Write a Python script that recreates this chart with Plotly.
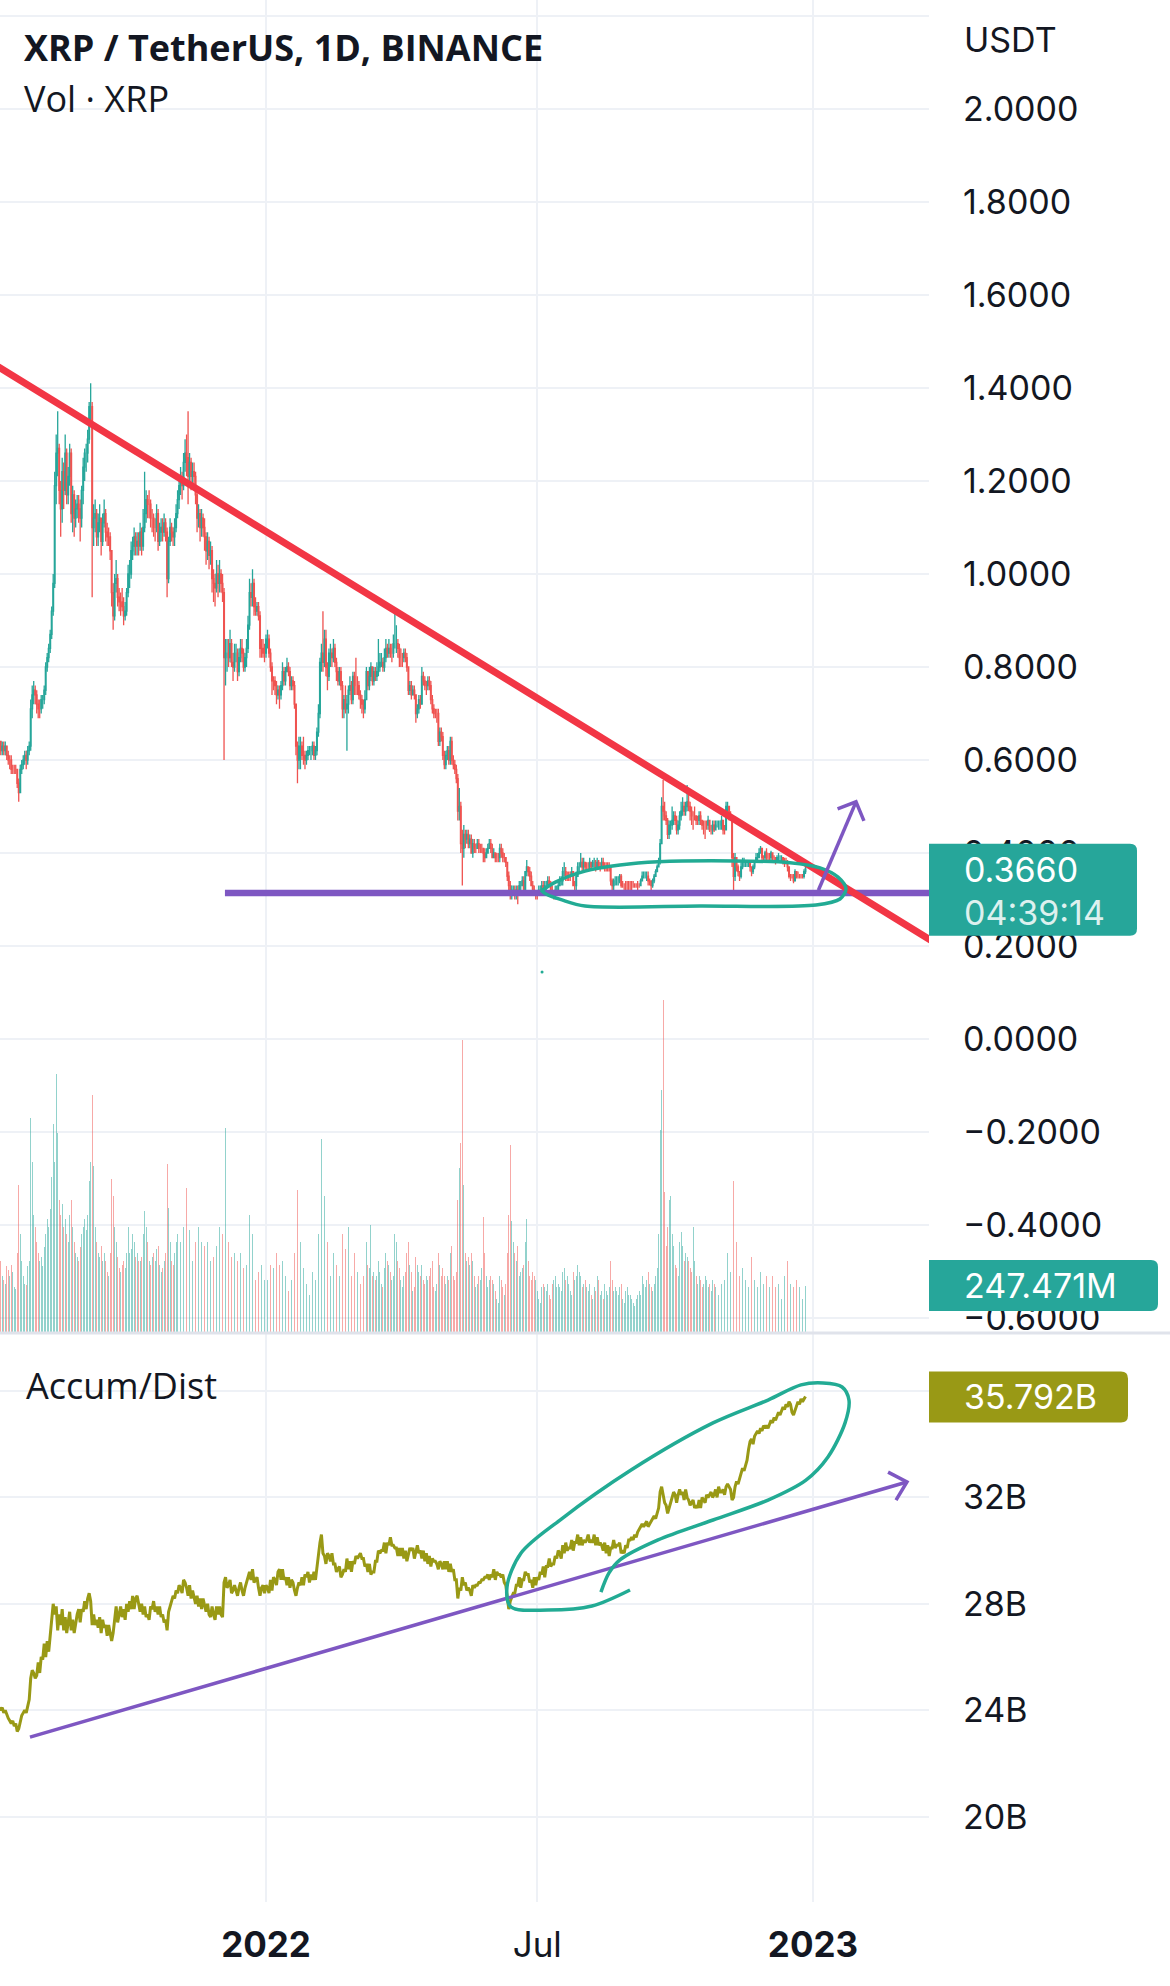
import pandas as pd
import plotly.graph_objects as go

# ---------------- DATA ----------------
start_date = "2021-07-07"   # first daily candle
first_open = 0.63

close = [
    # 2021-07 (7..31)
    0.64,0.62,0.63,0.62,0.63, 0.61,0.60,0.60,0.58,0.58, 0.58,0.58,0.55,0.53,0.58, 0.59,0.60,0.61,0.60,0.62, 0.63,0.71,0.74,0.75,0.74,
    # 2021-08
    0.72,0.71,0.71,0.73,0.73, 0.75,0.80,0.82,0.84,0.87, 0.92,0.98,1.19,1.26,1.27, 1.18,1.14,1.22,1.18,1.26, 1.17,1.21,1.26,1.13,1.17, 1.12,1.14,1.15,1.14,1.12, 1.18,
    # 2021-09
    1.23,1.26,1.26,1.29,1.36, 1.36,1.10,1.12,1.13,1.08, 1.11,1.12,1.07,1.11,1.13, 1.09,1.08,1.08,1.05,0.96, 0.91,0.98,0.99,0.95,0.94, 0.94,0.93,0.91,0.92,0.96,
    # 2021-10
    1.00,1.00,1.05,1.06,1.08, 1.06,1.07,1.06,1.09,1.06, 1.10,1.13,1.16,1.15,1.15, 1.12,1.12,1.10,1.10,1.13, 1.07,1.09,1.10,1.09,1.11, 1.09,0.99,1.07,1.10,1.09, 1.08,
    # 2021-11
    1.10,1.13,1.16,1.19,1.20, 1.19,1.24,1.26,1.25,1.21, 1.24,1.21,1.22,1.21,1.17, 1.12,1.13,1.10,1.12,1.10, 1.08,1.05,1.07,1.04,1.05, 0.99,0.98,0.97,1.00,0.98,
    # 2021-12
    1.00,0.98,0.96,0.82,0.83, 0.83,0.82,0.85,0.81,0.80, 0.83,0.83,0.79,0.82,0.84, 0.83,0.80,0.82,0.84,0.89, 0.96,0.95,0.98,0.93,0.92, 0.93,0.91,0.84,0.84,0.83, 0.83,
    # 2022-01
    0.86,0.86,0.83,0.80,0.77, 0.77,0.76,0.74,0.75,0.74, 0.76,0.79,0.77,0.79,0.80, 0.79,0.76,0.77,0.76,0.72, 0.63,0.60,0.63,0.63,0.61, 0.61,0.60,0.61,0.62,0.62, 0.62,
    # 2022-02
    0.63,0.61,0.62,0.66,0.70, 0.81,0.83,0.81,0.86,0.80, 0.78,0.83,0.83,0.82,0.84, 0.81,0.79,0.77,0.79,0.76, 0.71,0.73,0.71,0.72,0.75, 0.76,0.73,0.78,
    # 2022-03
    0.76,0.76,0.76,0.74,0.73, 0.72,0.71,0.73,0.79,0.76, 0.78,0.80,0.77,0.79,0.78, 0.79,0.80,0.81,0.81,0.80, 0.82,0.84,0.83,0.84,0.83, 0.83,0.85,0.85,0.85,0.84, 0.82,
    # 2022-04
    0.82,0.82,0.83,0.82,0.80, 0.75,0.76,0.74,0.75,0.74, 0.70,0.71,0.73,0.72,0.78, 0.77,0.76,0.76,0.77,0.76, 0.73,0.71,0.70,0.70,0.70, 0.64,0.66,0.65,0.61,0.59,
    # 2022-05
    0.61,0.62,0.60,0.64,0.60, 0.59,0.58,0.56,0.49,0.50, 0.42,0.41,0.44,0.43,0.44, 0.42,0.43,0.40,0.42,0.41, 0.41,0.42,0.41,0.41,0.41, 0.40,0.39,0.40,0.41,0.42, 0.41,
    # 2022-06
    0.39,0.40,0.39,0.39,0.39, 0.41,0.40,0.39,0.39,0.38, 0.35,0.33,0.31,0.32,0.32, 0.31,0.32,0.31,0.33,0.33, 0.34,0.32,0.36,0.37,0.36, 0.35,0.33,0.32,0.31,0.31,
    # 2022-07
    0.31,0.32,0.32,0.33,0.32, 0.33,0.33,0.34,0.33,0.32, 0.31,0.31,0.32,0.32,0.33, 0.34,0.34,0.36,0.36,0.35, 0.35,0.35,0.35,0.36,0.33, 0.33,0.35,0.37,0.37,0.38, 0.37,
    # 2022-08
    0.38,0.37,0.37,0.37,0.38, 0.37,0.38,0.38,0.37,0.38, 0.37,0.37,0.38,0.37,0.37, 0.37,0.37,0.37,0.34,0.33, 0.34,0.34,0.34,0.34,0.35, 0.33,0.33,0.33,0.33,0.33, 0.33,
    # 2022-09
    0.33,0.33,0.33,0.33,0.33, 0.33,0.33,0.34,0.35,0.35, 0.35,0.35,0.34,0.34,0.33, 0.34,0.35,0.36,0.37,0.38, 0.42,0.50,0.49,0.48,0.47, 0.44,0.46,0.46,0.47,0.48,
    # 2022-10
    0.47,0.45,0.46,0.48,0.49, 0.50,0.49,0.50,0.51,0.50, 0.49,0.48,0.48,0.48,0.47, 0.47,0.48,0.47,0.46,0.46, 0.46,0.46,0.47,0.45,0.45, 0.46,0.45,0.46,0.46,0.46, 0.46,
    # 2022-11
    0.47,0.45,0.45,0.50,0.50, 0.48,0.48,0.39,0.35,0.39, 0.37,0.36,0.35,0.37,0.38, 0.38,0.38,0.38,0.38,0.37, 0.36,0.37,0.38,0.39,0.39, 0.40,0.41,0.39,0.39,0.40,
    # 2022-12 (1..27)
    0.39,0.39,0.39,0.40,0.39, 0.39,0.38,0.39,0.39,0.39, 0.39,0.38,0.38,0.38,0.37, 0.35,0.35,0.35,0.34,0.36, 0.35,0.35,0.35,0.35,0.35, 0.36,0.366,
]

high = [
    0.65,0.64,0.64,0.64,0.64, 0.63,0.62,0.61,0.61,0.59, 0.59,0.59,0.58,0.56,0.59, 0.60,0.61,0.62,0.62,0.63, 0.64,0.73,0.76,0.77,0.76,
    0.75,0.73,0.73,0.74,0.74, 0.76,0.81,0.83,0.85,0.88, 0.93,1.00,1.22,1.30,1.35, 1.28,1.20,1.25,1.24,1.30, 1.27,1.23,1.28,1.27,1.19, 1.18,1.16,1.17,1.17,1.16, 1.19,
    1.25,1.27,1.28,1.31,1.37, 1.41,1.37,1.15,1.16,1.14, 1.13,1.15,1.12,1.13,1.16, 1.14,1.11,1.10,1.09,1.05, 0.98,1.00,1.03,1.00,0.97, 0.96,0.97,0.95,0.94,0.97,
    1.02,1.03,1.07,1.08,1.10, 1.09,1.09,1.09,1.11,1.10, 1.14,1.22,1.18,1.17,1.18, 1.16,1.14,1.13,1.12,1.15, 1.14,1.11,1.12,1.12,1.13, 1.12,1.10,1.08,1.12,1.11, 1.10,
    1.12,1.15,1.18,1.21,1.23, 1.22,1.26,1.29,1.30,1.35, 1.26,1.25,1.24,1.24,1.22, 1.18,1.15,1.14,1.14,1.13, 1.12,1.09,1.09,1.08,1.07, 1.06,1.01,1.00,1.03,1.02,
    1.03,1.01,1.00,0.97,0.86, 0.86,0.86,0.88,0.86,0.83, 0.85,0.85,0.84,0.84,0.86, 0.86,0.84,0.83,0.86,0.91, 0.99,0.98,1.01,0.99,0.95, 0.94,0.94,0.92,0.86,0.86, 0.85,
    0.87,0.88,0.87,0.84,0.81, 0.78,0.78,0.77,0.76,0.76, 0.77,0.81,0.80,0.80,0.82, 0.81,0.80,0.78,0.78,0.77, 0.72,0.64,0.65,0.65,0.64, 0.65,0.62,0.62,0.63,0.63, 0.63,
    0.64,0.64,0.63,0.67,0.72, 0.82,0.85,0.92,0.88,0.88, 0.81,0.84,0.85,0.84,0.86, 0.85,0.82,0.80,0.80,0.80, 0.77,0.74,0.76,0.74,0.76, 0.78,0.77,0.79,
    0.79,0.82,0.78,0.77,0.75, 0.74,0.73,0.75,0.80,0.79, 0.80,0.81,0.80,0.80,0.80, 0.81,0.86,0.83,0.83,0.82, 0.84,0.86,0.85,0.86,0.85, 0.85,0.87,0.92,0.89,0.86, 0.85,
    0.84,0.83,0.84,0.84,0.83, 0.80,0.77,0.77,0.76,0.76, 0.74,0.72,0.74,0.74,0.80, 0.79,0.78,0.77,0.78,0.78, 0.77,0.74,0.72,0.71,0.71, 0.71,0.67,0.67,0.66,0.62,
    0.62,0.63,0.63,0.65,0.65, 0.61,0.60,0.59,0.57,0.54, 0.51,0.45,0.46,0.45,0.45, 0.45,0.44,0.44,0.43,0.43, 0.42,0.43,0.43,0.42,0.42, 0.41,0.41,0.41,0.42,0.43, 0.43,
    0.42,0.41,0.40,0.40,0.40, 0.42,0.42,0.41,0.40,0.39, 0.38,0.36,0.34,0.33,0.33, 0.33,0.33,0.33,0.34,0.34, 0.35,0.35,0.36,0.385,0.37, 0.37,0.36,0.34,0.33,0.32,
    0.32,0.33,0.33,0.34,0.34, 0.34,0.34,0.35,0.35,0.34, 0.33,0.32,0.33,0.33,0.34, 0.35,0.35,0.37,0.38,0.37, 0.36,0.36,0.36,0.37,0.36, 0.34,0.36,0.38,0.38,0.40, 0.39,
    0.39,0.38,0.38,0.38,0.39, 0.38,0.385,0.39,0.385,0.39, 0.385,0.38,0.39,0.39,0.38, 0.38,0.38,0.38,0.37,0.345, 0.345,0.35,0.35,0.35,0.355, 0.355,0.34,0.335,0.34,0.34, 0.34,
    0.34,0.34,0.34,0.335,0.335, 0.34,0.335,0.345,0.36,0.36, 0.36,0.36,0.36,0.345,0.34, 0.345,0.355,0.365,0.375,0.39, 0.43,0.52,0.557,0.51,0.49, 0.475,0.47,0.47,0.50,0.49,
    0.49,0.48,0.47,0.49,0.51, 0.52,0.51,0.51,0.546,0.53, 0.51,0.50,0.49,0.50,0.48, 0.48,0.49,0.49,0.47,0.47, 0.47,0.47,0.48,0.47,0.46, 0.47,0.47,0.47,0.47,0.47, 0.47,
    0.48,0.47,0.46,0.51,0.51, 0.50,0.49,0.48,0.40,0.40, 0.39,0.375,0.36,0.38,0.39, 0.39,0.385,0.385,0.385,0.38, 0.37,0.375,0.385,0.40,0.40, 0.41,0.415,0.41,0.395,0.405,
    0.41,0.40,0.40,0.405,0.40, 0.395,0.39,0.395,0.40,0.395, 0.395,0.39,0.39,0.39,0.385, 0.37,0.355,0.355,0.355,0.365, 0.36,0.36,0.355,0.355,0.355, 0.365,0.37,
]

low = [
    0.61,0.61,0.61,0.61,0.61, 0.60,0.59,0.58,0.57,0.57, 0.57,0.57,0.54,0.51,0.53, 0.57,0.58,0.59,0.58,0.59, 0.61,0.62,0.69,0.72,0.72,
    0.70,0.69,0.69,0.70,0.71, 0.72,0.74,0.79,0.81,0.83, 0.86,0.91,0.97,1.15,1.21, 1.15,1.08,1.11,1.14,1.17, 1.15,1.15,1.19,1.11,1.09, 1.08,1.10,1.12,1.11,1.07, 1.10,
    1.15,1.20,1.22,1.24,1.28, 1.32,0.95,1.06,1.09,1.06, 1.06,1.09,1.04,1.06,1.10, 1.07,1.06,1.06,1.03,0.93, 0.88,0.90,0.96,0.93,0.92, 0.91,0.92,0.89,0.90,0.91,
    0.95,0.97,0.99,1.03,1.04, 1.04,1.04,1.04,1.05,1.04, 1.05,1.09,1.11,1.12,1.12, 1.10,1.09,1.08,1.07,1.09, 1.05,1.06,1.07,1.07,1.08, 1.07,0.95,0.98,1.06,1.07, 1.06,
    1.06,1.09,1.12,1.14,1.17, 1.16,1.18,1.22,1.21,1.15, 1.19,1.18,1.19,1.19,1.15, 1.09,1.10,1.07,1.08,1.08, 1.05,1.02,1.03,1.01,1.02, 0.96,0.94,0.93,0.96,0.95,
    0.96,0.96,0.94,0.60,0.76, 0.79,0.80,0.81,0.80,0.77, 0.79,0.81,0.77,0.78,0.81, 0.81,0.79,0.79,0.80,0.83, 0.88,0.93,0.93,0.91,0.91, 0.91,0.90,0.82,0.82,0.82, 0.81,
    0.82,0.84,0.82,0.79,0.74, 0.75,0.74,0.72,0.73,0.71, 0.73,0.75,0.76,0.76,0.79, 0.78,0.75,0.75,0.75,0.71, 0.61,0.55,0.58,0.58,0.60, 0.59,0.58,0.59,0.60,0.61, 0.60,
    0.61,0.60,0.60,0.61,0.65, 0.69,0.79,0.79,0.80,0.78, 0.75,0.77,0.80,0.80,0.81, 0.80,0.77,0.76,0.76,0.75, 0.69,0.69,0.70,0.62,0.70, 0.74,0.72,0.72,
    0.74,0.74,0.74,0.73,0.71, 0.70,0.69,0.70,0.73,0.75, 0.75,0.77,0.76,0.76,0.77, 0.77,0.78,0.79,0.80,0.79, 0.79,0.81,0.82,0.82,0.82, 0.81,0.82,0.84,0.83,0.82, 0.80,
    0.80,0.80,0.81,0.81,0.79, 0.74,0.74,0.73,0.74,0.73, 0.68,0.69,0.70,0.71,0.72, 0.76,0.75,0.74,0.75,0.75, 0.72,0.70,0.69,0.69,0.68, 0.63,0.63,0.64,0.60,0.58,
    0.58,0.60,0.59,0.59,0.59, 0.58,0.57,0.55,0.47,0.47, 0.40,0.33,0.39,0.41,0.42, 0.41,0.41,0.40,0.39,0.40, 0.40,0.41,0.40,0.40,0.40, 0.38,0.38,0.39,0.40,0.41, 0.40,
    0.39,0.39,0.38,0.38,0.38, 0.38,0.39,0.38,0.38,0.37, 0.34,0.32,0.30,0.30,0.31, 0.30,0.30,0.29,0.31,0.32, 0.33,0.32,0.32,0.35,0.35, 0.34,0.33,0.31,0.31,0.30,
    0.30,0.31,0.31,0.31,0.31, 0.32,0.32,0.33,0.33,0.32, 0.31,0.30,0.30,0.31,0.32, 0.33,0.33,0.33,0.35,0.34, 0.34,0.34,0.34,0.35,0.33, 0.32,0.32,0.35,0.36,0.37, 0.36,
    0.36,0.36,0.36,0.36,0.365, 0.365,0.37,0.37,0.36,0.365, 0.365,0.36,0.37,0.365,0.36, 0.36,0.36,0.36,0.33,0.32, 0.32,0.33,0.33,0.33,0.335, 0.325,0.325,0.32,0.32,0.32, 0.32,
    0.32,0.32,0.325,0.325,0.325, 0.32,0.325,0.33,0.34,0.345, 0.345,0.34,0.33,0.33,0.32, 0.325,0.335,0.35,0.36,0.37, 0.375,0.42,0.47,0.47,0.46, 0.43,0.43,0.44,0.45,0.46,
    0.46,0.44,0.44,0.45,0.47, 0.48,0.48,0.48,0.49,0.49, 0.47,0.46,0.45,0.47,0.46, 0.46,0.46,0.46,0.45,0.44, 0.43,0.45,0.45,0.445,0.44, 0.44,0.445,0.45,0.455,0.45, 0.45,
    0.45,0.44,0.44,0.45,0.48, 0.47,0.47,0.37,0.32,0.34, 0.36,0.35,0.34,0.345,0.365, 0.37,0.37,0.37,0.37,0.36, 0.35,0.355,0.365,0.38,0.38, 0.39,0.40,0.385,0.38,0.385,
    0.38,0.38,0.38,0.385,0.385, 0.38,0.375,0.38,0.38,0.38, 0.38,0.375,0.37,0.375,0.36, 0.345,0.34,0.345,0.335,0.34, 0.345,0.345,0.345,0.345,0.345, 0.345,0.355,
]

volume_m = [
    420,380,300,280,260, 350,330,300,360,320, 240,230,420,780,520, 380,300,260,250,350, 380,1130,900,620,560,
    480,420,380,400,350, 450,520,600,560,650, 820,1100,900,1360,1050, 700,620,680,560,600, 520,480,620,700,560, 480,420,400,380,450, 520,
    560,600,540,620,800, 900,1250,880,560,480, 420,400,460,380,420, 380,320,300,420,810, 720,560,480,400,340, 320,360,380,340,420,
    560,420,440,520,480, 400,420,380,380,400, 520,640,560,480,380, 360,400,420,380,440, 460,360,320,340,380, 420,890,660,480,380, 360,
    420,480,520,560,480, 420,560,900,760,820, 540,420,380,360,480, 650,560,500,480,420, 460,540,480,620,380, 520,400,420,460,480,
    560,480,520,1310,1080, 620,480,420,400,380, 420,320,380,360,420, 380,340,300,360,480, 620,560,520,420,280, 240,320,480,360,300, 280,
    240,280,320,360,420, 340,380,420,280,360, 320,380,320,300,260, 220,300,280,260,420, 680,750,520,480,360, 340,300,260,220,200, 260,
    320,300,280,380,520, 760,1020,880,720,640, 480,440,300,340,420, 380,360,420,300,320, 520,480,440,970,560, 380,300,460,
    420,380,320,300,260, 220,300,320,480,360, 340,570,300,320,280, 300,380,320,260,240, 340,420,380,360,320, 280,300,520,480,380, 340,
    280,240,300,320,420, 480,360,320,220,240, 400,360,320,300,360, 280,260,300,280,300, 340,380,240,220,260, 420,360,300,340,300,
    260,300,280,420,460, 300,280,320,700,870, 1000,1540,780,420,380, 400,360,420,380,300, 240,260,300,280,340, 610,420,300,240,280, 300,
    280,260,220,180,160, 300,280,240,200,260, 420,620,990,590,480, 420,380,460,300,320, 340,360,480,600,380, 300,280,320,300,280,
    220,180,160,240,260, 240,220,260,200,180, 260,280,300,240,260, 240,220,320,340,280, 300,260,220,200,320, 280,300,360,320,300, 240,
    260,280,240,220,260, 200,180,240,220,300, 280,200,220,180,260, 220,200,240,380,280, 220,240,220,200,240, 260,180,160,220,240, 200,
    200,180,160,140,180, 200,220,200,300,260, 240,280,320,260,240, 220,260,300,340,520, 1070,1280,1750,740,460, 560,700,720,520,460,
    360,340,300,480,530, 460,380,420,400,380, 340,320,560,380,300, 260,300,280,240,260, 300,280,240,260,220, 280,260,240,220,200, 240,
    260,300,280,530,420, 300,320,940,800,560, 480,380,300,360,340, 300,280,260,240,570, 400,300,280,260,240, 300,320,280,260,240,
    300,260,240,280,300, 260,240,220,260,200, 180,240,300,320,380, 420,260,200,240,360, 280,300,240,200,180, 260,247.471,
]

accum_dist_b = [
    # 2021-07
    24.1,24.0,24.1,23.9,24.0, 23.8,23.7,23.6,23.5,23.6, 23.4,23.5,23.2,23.3,23.6, 23.8,23.9,24.0,23.9,24.2, 24.4,25.2,25.5,25.4,25.2,
    # 2021-08
    25.3,25.8,25.4,26.0,25.9, 26.5,26.0,26.6,26.2,27.0, 27.4,28.0,27.6,27.9,27.0, 27.6,27.2,27.8,27.0,27.5, 26.9,27.3,27.7,27.0,27.4, 26.9,27.3,27.6,27.8,27.3, 27.8,
    # 2021-09
    27.7,28.1,27.8,28.2,28.4, 28.1,27.2,27.6,27.2,27.4, 27.1,27.5,26.9,27.4,27.1, 27.2,26.8,27.2,26.9,26.6, 26.9,27.5,27.9,27.3,27.7, 27.9,27.5,27.8,27.4,28.0,
    # 2021-10
    27.7,28.1,27.8,28.3,27.8, 28.2,28.3,27.9,27.7,28.0, 27.6,27.9,27.5,27.6,27.4, 27.9,27.8,28.1,27.7,27.9, 27.6,27.9,27.5,27.6,27.3, 27.4,27.0,27.7,27.9,28.1, 28.3,
    # 2021-11
    28.2,28.5,28.4,28.7,28.6, 28.4,28.9,28.8,28.6,28.3, 28.7,28.2,28.5,28.2,28.0, 28.3,27.9,28.2,27.8,28.2, 27.9,27.7,28.0,27.6,27.5, 27.9,27.6,27.4,27.9,27.6,
    # 2021-12
    27.9,27.6,27.5,28.8,29.0, 28.6,28.7,28.9,28.4,28.5, 28.7,28.5,28.3,28.6,28.8, 28.5,28.3,28.6,28.8,29.0, 29.2,28.9,29.3,28.8,28.9, 29.0,28.6,28.3,28.6,28.7, 28.4,
    # 2022-01
    28.7,28.6,28.4,28.9,28.5, 29.0,28.9,28.7,29.2,29.3, 28.9,29.3,28.9,29.0,28.7, 29.0,28.6,28.9,28.8,28.5, 28.3,28.6,28.8,28.7,29.0, 28.7,29.1,29.0,29.2,28.8, 29.1,
    # 2022-02
    28.9,29.2,28.9,29.4,29.7, 30.3,30.6,29.9,29.8,29.5, 29.9,29.8,29.6,29.9,29.5, 29.5,29.2,29.3,29.4,29.0, 29.1,29.3,29.2,29.7,29.3, 29.6,29.2,29.6,
    # 2022-03
    29.5,29.8,29.7,29.8,29.9, 29.7,29.7,29.4,29.5,29.2, 29.5,29.1,29.2,29.2,29.6, 29.6,30.0,29.9,30.0,30.0, 30.3,29.9,30.3,30.2,30.5, 30.2,30.2,30.1,30.1,29.8, 30.1,
    # 2022-04
    29.8,30.1,29.7,30.0,29.6, 29.9,30.1,30.0,30.1,29.7, 30.0,30.2,29.9,30.0,29.7, 30.0,29.6,29.9,29.5,29.8, 29.4,29.7,29.6,29.6,29.5, 29.3,29.6,29.5,29.3,29.6,
    # 2022-05
    29.3,29.6,29.2,29.5,29.2, 29.3,28.9,28.9,28.2,28.6, 28.5,29.0,28.7,28.8,28.5, 28.6,28.5,28.3,28.7,28.6, 28.7,28.7,28.8,28.8,28.9, 28.9,29.0,29.0,29.1,28.9, 29.1,
    # 2022-06
    29.0,29.3,28.9,29.2,29.1, 29.1,29.0,29.1,28.8,28.7, 28.1,27.8,28.1,28.3,28.4, 28.4,28.7,28.7,29.0,28.6, 28.9,28.9,29.2,29.1,29.1, 28.8,28.9,28.6,29.0,28.7,
    # 2022-07
    29.0,28.9,29.2,29.1,29.4, 29.0,29.4,29.4,29.7,29.4, 29.5,29.5,29.8,29.7,30.0, 29.9,29.7,30.2,29.9,30.3, 30.0,30.1,30.1,30.4,30.0, 30.3,30.3,30.6,30.2,30.5, 30.2,
    # 2022-08
    30.4,30.3,30.4,30.6,30.3, 30.4,30.3,30.6,30.2,30.5, 30.2,30.3,30.2,30.0,30.3, 29.9,30.2,29.8,30.1,30.1, 30.4,30.1,30.2,30.2,30.3, 29.9,30.0,29.9,30.2,30.1, 30.4,
    # 2022-09
    30.4,30.5,30.4,30.6,30.5, 30.7,30.8,30.9,31.0,30.9, 31.0,31.1,30.9,31.0,31.1, 31.2,31.3,31.2,31.4,31.6, 32.2,32.4,32.1,31.8,31.7, 31.4,31.6,31.8,32.0,32.2,
    # 2022-10
    32.1,31.8,32.1,32.3,32.1, 32.2,31.9,32.3,32.0,31.9, 31.7,31.8,31.9,31.6,31.7, 31.6,31.9,31.6,32.0,31.9, 31.8,32.1,32.0,32.1,32.2, 32.0,32.1,32.3,32.0,32.4, 32.2,
    # 2022-11
    32.2,32.3,32.1,32.4,32.5, 32.4,32.3,31.9,32.0,32.4, 32.6,32.5,32.7,32.9,33.1, 33.0,33.2,33.4,33.8,34.1, 34.2,34.0,34.3,34.4,34.5, 34.4,34.6,34.5,34.7,34.6,
    # 2022-12
    34.7,34.6,34.8,34.9,34.8, 35.0,34.9,35.1,35.2,35.1, 35.3,35.4,35.3,35.5,35.4, 35.6,35.5,35.2,35.1,35.3, 35.4,35.6,35.5,35.7,35.6, 35.7,35.792,
]

x_tick_vals = ["2022-01-01", "2022-07-01", "2023-01-01"]
x_tick_text = ["<b>2022</b>", "Jul", "<b>2023</b>"]
price_tick_vals = [-0.6, -0.4, -0.2, 0.0, 0.2, 0.4, 0.6, 0.8, 1.0, 1.2, 1.4, 1.6, 1.8, 2.0, 2.2]
ad_tick_vals = [20, 24, 28, 32, 36]
ad_tick_text = ["20B", "24B", "28B", "32B", "36B"]

price_badge_text = "0.3660"
timer_text = "04:39:14"
volume_badge_text = "247.471M"
ad_badge_text = "35.792B"

# Hand drawings (day offsets from drawing origin, value)
drawing_origin = "2021-07-07 12:00"
red_trend_days, red_trend_vals = [-6.5, 632.5], [1.456, 0.190]
support_days, support_vals = [150.1, 640.0], [0.314, 0.314]
arrow_shaft_days, arrow_shaft_vals = [546.1, 571.2], [0.320, 0.510]
arrow_head_days, arrow_head_vals = [558.9, 571.2, 576.5], [0.495, 0.510, 0.469]
price_loop_days = [361.0, 371.0, 390.4, 413.7, 439.1, 490.5, 527.2, 547.2, 559.2, 564.5, 560.5, 544.5, 467.1, 390.4, 375.0, 364.3, 361.0]
price_loop_vals = [0.318, 0.338, 0.361, 0.374, 0.381, 0.383, 0.379, 0.368, 0.348, 0.323, 0.301, 0.288, 0.286, 0.286, 0.299, 0.312, 0.320]
dot_days, dot_vals = [361.7], [0.144]
ad_trend_days, ad_trend_vals = [20.0, 605.2], [22.99, 32.58]
ad_head_days, ad_head_vals = [592.6, 605.2, 597.9], [32.95, 32.58, 31.90]
ad_loop_days = [401.0, 406.4, 413.7, 439.1, 475.8, 512.5, 537.8, 552.5, 563.9, 566.5, 561.9, 549.2, 534.5, 512.5, 475.8, 421.1, 373.7, 347.7, 338.3, 341.0, 365.7, 395.0, 420.4]
ad_loop_vals = [28.44, 29.16, 29.65, 30.40, 31.15, 31.90, 32.65, 33.52, 34.80, 35.66, 36.15, 36.30, 36.23, 35.66, 34.80, 33.03, 31.15, 29.91, 28.63, 27.88, 27.77, 27.92, 28.52]

# ---------------- BUILD ----------------
n = len(close)
assert len(high) == n and len(low) == n and len(volume_m) == n and len(accum_dist_b) == n, (n, len(high), len(low), len(volume_m), len(accum_dist_b))
dates = pd.date_range(start_date, periods=n, freq="D")
opens = [first_open] + close[:-1]
highs = [max(h, o, c) for h, o, c in zip(high, opens, close)]
lows = [min(l, o, c) for l, o, c in zip(low, opens, close)]

origin = pd.Timestamp(drawing_origin)
def to_dates(days):
    return [origin + pd.Timedelta(days=d) for d in days]

UP, DOWN = "#26a69a", "#ef5350"
TEXT = "#131722"
GRID = "#eef1f6"
W, H = 929, 1902          # plot area in px
SPLIT = 1333              # px from top where the price pane ends
price_range = [-0.6323, 2.2344]
ad_range = [16.79, 38.18]
vol_range = [0, 7010]
dom_split = (H - SPLIT) / H

def px(x): return x / W
def py(y): return 1 - y / H

fig = go.Figure()

vol_colors = ["rgba(38,166,154,0.5)" if c >= o else "rgba(239,83,80,0.5)" for o, c in zip(opens, close)]
fig.add_trace(go.Bar(x=dates, y=volume_m, marker=dict(color=vol_colors, line=dict(width=0)),
                     width=86400000 * 0.55, xaxis="x", yaxis="y3", hoverinfo="skip"))

fig.add_trace(go.Candlestick(x=dates, open=opens, high=highs, low=lows, close=close,
                             increasing=dict(line=dict(color=UP, width=1.3), fillcolor=UP),
                             decreasing=dict(line=dict(color=DOWN, width=1.3), fillcolor=DOWN),
                             whiskerwidth=0, xaxis="x", yaxis="y", hoverinfo="skip"))

def line(days, vals, color, width, yaxis, xaxis="x", shape="linear"):
    fig.add_trace(go.Scatter(x=to_dates(days), y=vals, mode="lines",
                             line=dict(color=color, width=width, shape=shape, smoothing=0.9),
                             xaxis=xaxis, yaxis=yaxis, hoverinfo="skip"))

PURPLE, RED, TEAL = "#7e57c2", "#f23645", "#22ab94"
line(support_days, support_vals, PURPLE, 6.5, "y")
line(red_trend_days, red_trend_vals, RED, 7, "y")
line(price_loop_days, price_loop_vals, TEAL, 3.5, "y", shape="spline")
line(arrow_shaft_days, arrow_shaft_vals, PURPLE, 3.5, "y")
line(arrow_head_days, arrow_head_vals, PURPLE, 3.5, "y")
fig.add_trace(go.Scatter(x=to_dates(dot_days), y=dot_vals, mode="markers",
                         marker=dict(color=TEAL, size=3), xaxis="x", yaxis="y", hoverinfo="skip"))

fig.add_trace(go.Scatter(x=dates, y=accum_dist_b, mode="lines", line=dict(color="#999915", width=3),
                         xaxis="x2", yaxis="y2", hoverinfo="skip"))
line(ad_trend_days, ad_trend_vals, PURPLE, 3.5, "y2", xaxis="x2")
line(ad_head_days, ad_head_vals, PURPLE, 3.5, "y2", xaxis="x2")
line(ad_loop_days, ad_loop_vals, TEAL, 3.5, "y2", xaxis="x2", shape="spline")

x_range = [origin, origin + pd.Timedelta(days=W / 1.4986)]
axis_font = dict(family="Inter", size=34, color=TEXT)

def fmt(v):
    s = f"{abs(v):.4f}"
    return ("\u2212" + s) if v < -1e-9 else s

price_tick_text = [fmt(v) if v < 2.1 else "" for v in price_tick_vals]

fig.update_layout(
    width=1170, height=1986,
    margin=dict(l=0, r=1170 - W, t=0, b=1986 - H - 0),
    paper_bgcolor="white", plot_bgcolor="white",
    showlegend=False, hovermode=False,
    font=dict(family="Inter", color=TEXT),
    bargap=0,
    xaxis=dict(range=x_range, domain=[0, 1], anchor="y", showticklabels=False,
               tickvals=x_tick_vals, showgrid=True, gridcolor=GRID, gridwidth=2,
               zeroline=False, showline=False, rangeslider=dict(visible=False), ticks=""),
    xaxis2=dict(range=x_range, domain=[0, 1], anchor="y2", matches="x",
                tickvals=x_tick_vals, ticktext=x_tick_text, showgrid=True, gridcolor=GRID, gridwidth=2,
                zeroline=False, showline=False, ticks="", ticklabelstandoff=19,
                tickfont=dict(family="Inter", size=35, color=TEXT)),
    yaxis=dict(range=price_range, domain=[dom_split, 1], anchor="x", side="right",
               tickvals=price_tick_vals, ticktext=price_tick_text,
               showgrid=True, gridcolor=GRID, gridwidth=2, zeroline=False, showline=False,
               ticks="", ticklabelstandoff=33, tickfont=axis_font),
    yaxis3=dict(range=vol_range, overlaying="y", anchor="x", visible=False),
    yaxis2=dict(range=ad_range, domain=[0, dom_split], anchor="x2", side="right",
                tickvals=ad_tick_vals, ticktext=ad_tick_text,
                showgrid=True, gridcolor=GRID, gridwidth=2, zeroline=False, showline=False,
                ticks="", ticklabelstandoff=33, tickfont=axis_font),
)

# separator between panes
fig.add_shape(type="line", xref="paper", yref="paper", x0=0, x1=1170 / W, y0=py(SPLIT), y1=py(SPLIT),
              line=dict(color="#e0e3eb", width=3), layer="above")

def price_px(p):
    return (price_range[1] - p) / (price_range[1] - price_range[0]) * SPLIT
def vol_px(v):
    return SPLIT - (v - vol_range[0]) / (vol_range[1] - vol_range[0]) * SPLIT
def ad_px(v):
    return SPLIT + (ad_range[1] - v) / (ad_range[1] - ad_range[0]) * (H - SPLIT)

def badge(x0, y0, x1, y1, color, r=7):
    path = (f"M {px(x0)},{py(y0)} L {px(x1 - r)},{py(y0)} Q {px(x1)},{py(y0)} {px(x1)},{py(y0 + r)} "
            f"L {px(x1)},{py(y1 - r)} Q {px(x1)},{py(y1)} {px(x1 - r)},{py(y1)} L {px(x0)},{py(y1)} Z")
    fig.add_shape(type="path", path=path, xref="paper", yref="paper",
                  fillcolor=color, line=dict(width=0), layer="above")

def label(x, y, text, size=34, family="Inter", color=TEXT, bold=False):
    fig.add_annotation(x=px(x), y=py(y), xref="paper", yref="paper", text=text, showarrow=False,
                       xanchor="left", yanchor="middle",
                       font=dict(family=family, size=size, color=color, weight=700 if bold else 400))

last_p = price_px(close[-1])
badge(929, last_p - 25, 1137, last_p + 67, "#26a69a")
label(962, last_p + 1, price_badge_text, color="white")
label(962, last_p + 44, timer_text, color="rgba(255,255,255,0.85)")

last_v = vol_px(volume_m[-1])
badge(929, last_v - 26, 1158, last_v + 25, "#26a69a")
label(962, last_v, volume_badge_text, color="white")

last_a = ad_px(accum_dist_b[-1])
badge(929, last_a - 25, 1128, last_a + 26, "#999915")
label(962, last_a, ad_badge_text, color="white")

label(962, 40, "USDT")
label(22, 48, "XRP / TetherUS, 1D, BINANCE", size=36, family="Open Sans", bold=True)
label(22, 98, "Vol \u00b7 XRP", size=36, family="Open Sans")
label(24, 1385, "Accum/Dist", size=36, family="Open Sans")

fig.write_html("out.html", config={"displayModeBar": False},
               post_script="document.body.style.margin='0px';document.body.style.padding='0px';")
